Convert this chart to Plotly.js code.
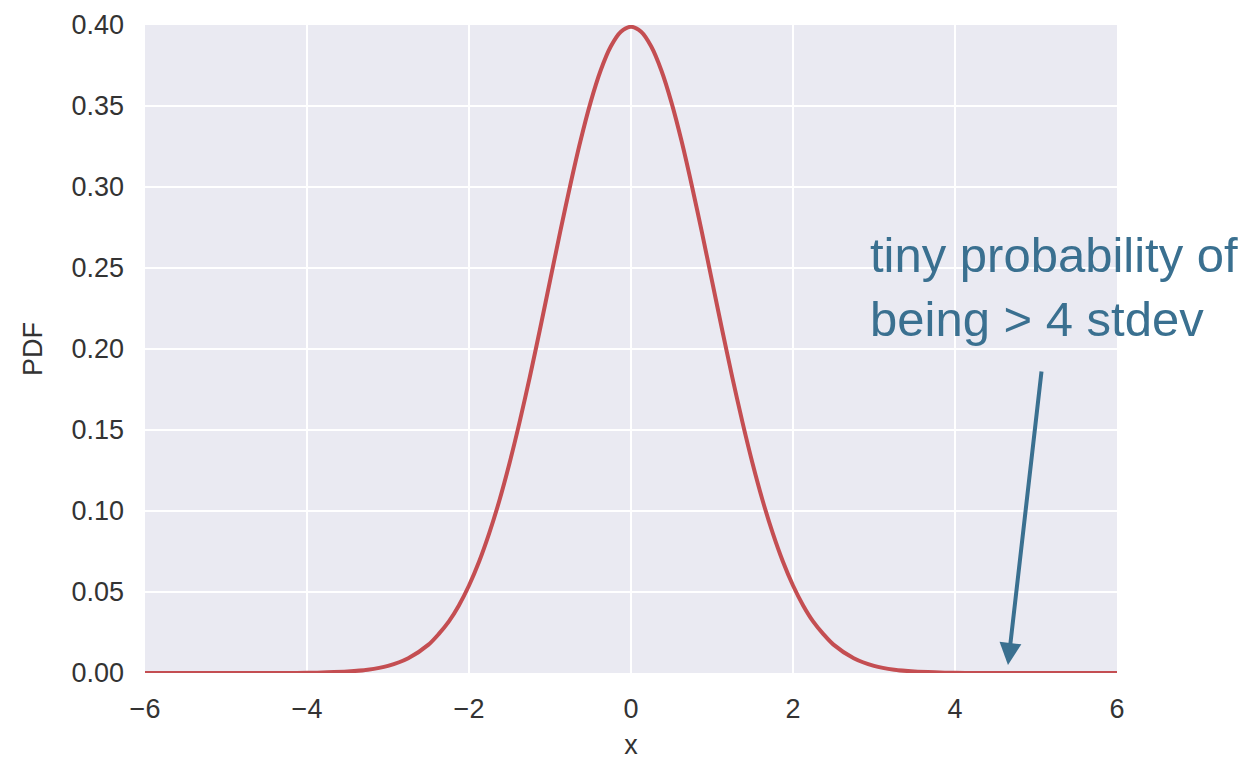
<!DOCTYPE html>
<html>
<head>
<meta charset="utf-8">
<script src="https://cdn.plot.ly/plotly-3.0.1.min.js"></script>
<style>html,body{margin:0;padding:0;background:#fff;}#chart{width:1256px;height:765px;}</style>
</head>
<body>
<div id="chart"></div>
<script>
// Values
const xValues = [-6,-5.5,-5,-4.5,-4.25,-4,-3.75,-3.5,-3.25,-3,-2.75,-2.5,-2.375,-2.25,-2.125,-2,-1.875,-1.75,-1.625,-1.5,-1.375,-1.25,-1.125,-1,-0.875,-0.75,-0.625,-0.5,-0.375,-0.25,-0.125,0,
  0.125,0.25,0.375,0.5,0.625,0.75,0.875,1,1.125,1.25,1.375,1.5,1.625,1.75,1.875,2,2.125,2.25,2.375,2.5,2.75,3,3.25,3.5,3.75,4,4.25,4.5,5,5.5,6];
const pdfValues = [0,0,0,0,0,0.0001,0.0004,0.0009,0.0020,0.0044,0.0091,0.0175,0.0240,0.0317,0.0417,0.0540,0.0688,0.0863,0.1065,0.1295,0.1550,0.1826,0.2119,0.2420,0.2721,0.3011,0.3282,0.3521,0.3719,0.3867,0.3958,0.3989,
  0.3958,0.3867,0.3719,0.3521,0.3282,0.3011,0.2721,0.2420,0.2119,0.1826,0.1550,0.1295,0.1065,0.0863,0.0688,0.0540,0.0417,0.0317,0.0240,0.0175,0.0091,0.0044,0.0020,0.0009,0.0004,0.0001,0,0,0,0,0];
const xTicks = [-6,-4,-2,0,2,4,6];
const yTicks = [0,0.05,0.10,0.15,0.20,0.25,0.30,0.35,0.40];
const noteText = "tiny probability of<br>being > 4 stdev";
const arrowHead = [4.654, 0.005];
const arrowTail = [5.07, 0.187];
const notePos = [2.93, 0.276];

const font = "Liberation Sans, Arial, Helvetica, sans-serif";
const data = [{
  x: xValues, y: pdfValues, type: 'scatter', mode: 'lines',
  line: {color: '#C44E52', width: 4, shape: 'spline', smoothing: 0.8},
  hoverinfo: 'x+y'
}];
const layout = {
  width: 1256, height: 765,
  margin: {l: 145, r: 139, t: 25, b: 92},
  paper_bgcolor: '#ffffff', plot_bgcolor: '#EAEAF2',
  font: {family: font, color: '#333333', size: 27},
  showlegend: false,
  xaxis: {
    range: [-6, 6], tickvals: xTicks, showgrid: true, gridcolor: '#ffffff', gridwidth: 2,
    zeroline: false, showline: false, ticks: '', ticklabelstandoff: 17,
    tickfont: {size: 27, color: '#333333'},
    title: {text: 'x', font: {size: 27, color: '#333333'}, standoff: 12}
  },
  yaxis: {
    range: [0, 0.4], tickvals: yTicks, tickformat: '.2f', showgrid: true, gridcolor: '#ffffff', gridwidth: 2,
    zeroline: false, showline: false, ticks: '', ticklabelstandoff: 20,
    tickfont: {size: 27, color: '#333333'},
    title: {text: 'PDF', font: {size: 27, color: '#333333'}, standoff: 20}
  },
  annotations: [
    {x: notePos[0], y: notePos[1], xref: 'x', yref: 'y', text: noteText, showarrow: false,
     xanchor: 'left', yanchor: 'top', align: 'left',
     font: {family: font, size: 49, color: '#3A7090'}},
    {x: arrowHead[0], y: arrowHead[1], ax: arrowTail[0], ay: arrowTail[1], xref: 'x', yref: 'y',
     axref: 'x', ayref: 'y', text: '', showarrow: true, arrowhead: 2, arrowsize: 1.1, arrowwidth: 4,
     arrowcolor: '#3A7090'}
  ]
};
Plotly.newPlot('chart', data, layout, {displayModeBar: false, staticPlot: true});
</script>
</body>
</html>
